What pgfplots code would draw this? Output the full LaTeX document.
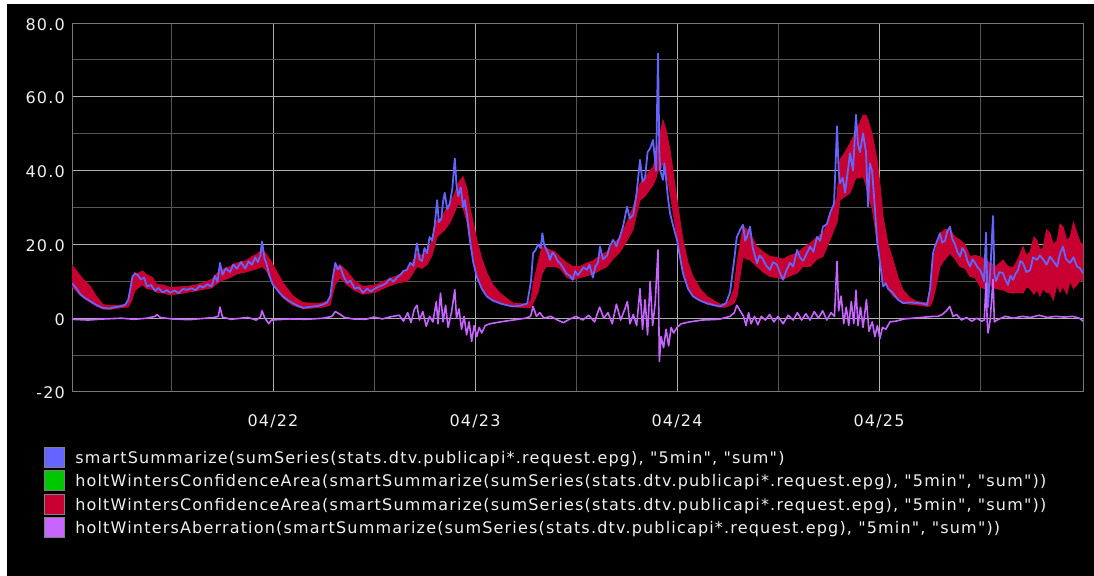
\documentclass[border=0pt]{standalone}
\usepackage{fontspec}
\setmainfont{DejaVu Sans}[LetterSpace=7.4, Ligatures=TeXOff]
\usepackage{xcolor}
\pagecolor{black}
\usepackage{pgfplots}
\usepackage{pgfplotstable}
\pgfplotsset{compat=1.18}
\usepgfplotslibrary{fillbetween}
\definecolor{hwblue}{RGB}{100,100,255}
\definecolor{hwgreen}{RGB}{0,200,0}
\definecolor{hwred}{RGB}{200,0,50}
\definecolor{hwpurple}{RGB}{200,100,255}
\definecolor{majgrid}{RGB}{175,175,175}
\definecolor{mingrid}{RGB}{85,85,85}
\definecolor{frame}{RGB}{120,120,120}
\definecolor{txt}{RGB}{240,240,240}

\pgfplotstableread{
h up low
-23.9 14.5 8.5
-23.4 13.0 7.5
-22.9 11.5 6.2
-22.3 10.0 5.2
-21.7 8.6 4.3
-21.0 6.0 3.3
-20.2 3.7 2.5
-19.4 3.4 2.4
-18.2 3.5 2.8
-17.6 3.8 3.0
-17.2 4.5 3.0
-16.75 11.0 5.0
-16.4 12.5 7.5
-16.16 12.0 8.0
-15.5 12.8 9.0
-15.0 11.8 8.0
-14.3 11.0 7.8
-13.8 9.1 7.0
-13.0 9.0 6.8
-12.24 8.3 6.3
-11.2 8.5 6.6
-10.2 8.6 7.0
-9.2 9.0 7.4
-8.3 9.6 7.8
-7.3 10.5 8.2
-6.3 13.0 10.0
-5.1 14.0 11.0
-4.3 15.0 12.0
-3.3 15.5 12.5
-2.5 16.7 13.0
-1.8 17.5 13.5
-1.31 18.6 14.0
-0.83 17.5 13.0
-0.36 15.9 11.0
0.36 13.0 8.0
1.19 9.6 5.5
2.38 6.0 3.5
3.56 4.2 2.6
5.0 4.0 2.8
5.94 4.2 3.0
6.77 5.0 3.5
7.37 13.7 9.0
7.96 14.5 11.0
8.79 12.7 9.0
9.74 10.0 7.5
10.69 8.6 6.5
12.12 9.0 7.0
13.54 10.4 8.5
14.73 11.5 9.5
15.92 13.0 10.0
16.28 14.0 11.0
17.11 17.6 14.0
17.7 17.0 13.5
18.3 18.0 14.5
18.89 21.0 17.0
19.48 26.6 22.0
19.96 27.0 23.0
20.43 29.0 24.0
21.03 31.0 26.0
21.62 34.0 29.0
21.98 36.5 31.0
22.57 38.4 30.0
23.05 35.0 26.0
23.4 30.0 21.0
24.24 21.0 12.0
24.83 16.0 8.0
25.42 12.2 6.0
26.14 9.0 4.8
26.97 6.8 4.0
28.51 4.1 3.1
30.18 3.8 2.8
30.65 5.0 3.0
30.89 9.0 4.0
31.48 15.0 7.0
31.96 19.4 12.0
32.43 19.0 14.0
32.91 18.5 14.0
33.5 18.0 14.0
34.1 16.6 13.5
34.93 15.0 11.0
35.64 14.0 10.4
36.47 14.0 11.0
37.31 15.0 11.5
38.02 15.5 12.0
38.85 17.0 13.0
39.68 18.0 14.0
40.39 20.0 16.0
41.23 22.0 18.0
42.06 26.0 21.0
42.77 30.0 24.0
43.6 36.5 32.0
44.19 38.0 33.0
44.79 40.0 35.0
45.15 41.0 36.0
45.5 44.0 38.0
45.74 47.0 40.0
45.98 50.0 40.0
46.33 53.7 42.0
46.69 51.0 40.0
47.17 45.6 34.0
48.0 32.0 22.0
48.71 21.2 13.0
49.31 15.0 8.0
49.9 11.3 6.0
50.73 8.0 4.8
51.56 5.9 3.8
53.11 3.8 3.0
53.82 4.0 3.0
54.3 5.0 3.5
54.77 8.0 4.0
55.13 15.0 6.0
55.84 24.8 16.7
56.31 24.0 16.0
56.67 23.0 15.8
57.5 19.4 14.0
58.22 18.0 12.5
59.05 16.7 11.3
59.88 16.5 11.0
60.59 16.0 10.5
61.42 17.0 11.5
62.26 17.6 12.2
62.97 19.0 14.0
63.8 20.3 14.0
64.63 22.0 16.0
65.34 23.0 16.7
66.18 27.6 21.2
66.65 30.0 24.0
67.01 33.0 26.0
67.36 43.0 32.0
67.96 45.0 33.0
68.55 47.4 33.9
68.91 49.0 36.0
69.26 51.0 38.0
69.74 53.0 38.0
70.1 55.0 38.4
70.45 55.0 36.0
70.69 53.7 33.0
71.17 50.0 30.0
71.76 43.0 21.0
72.12 36.0 15.0
72.47 27.6 10.0
73.07 20.0 8.0
73.66 15.8 6.0
74.26 11.0 5.0
74.85 7.7 4.0
75.68 5.5 3.8
76.51 4.5 3.6
77.7 4.2 3.2
78.06 6.0 3.3
78.41 15.8 5.0
78.89 20.0 10.0
79.24 23.0 14.0
79.84 24.0 16.0
80.43 24.0 17.6
81.03 22.0 16.0
81.62 21.2 14.0
82.21 20.0 13.5
82.81 16.7 11.3
83.4 17.0 11.0
84.0 16.7 8.6
84.47 16.0 8.0
85.18 15.0 9.0
85.9 14.0 8.0
86.73 15.8 7.7
87.32 14.0 7.0
87.92 13.7 6.8
88.51 16.0 7.0
89.11 19.4 6.8
89.5 17.0 8.5
89.94 18.0 8.0
90.4 22.0 6.5
90.77 21.0 7.7
91.1 18.5 6.0
91.48 19.0 8.0
91.9 24.0 7.0
92.31 23.0 6.8
92.7 20.0 5.0
93.15 21.0 9.0
93.5 25.5 7.0
93.86 24.8 8.6
94.3 21.0 6.5
94.69 22.0 10.0
95.1 26.0 8.0
95.52 23.0 9.0
95.9 20.5 10.5
96.23 20.0 10.0
}\bandtable

\pgfplotstableread{
h v
-23.9 9.5
-23.4 8.2
-22.9 6.5
-22.3 5.4
-21.7 4.6
-21.0 3.6
-20.2 2.8
-19.4 2.6
-18.8 3.0
-18.2 3.2
-17.6 3.5
-17.2 5.0
-16.9 8.5
-16.7 11.3
-16.4 12.0
-16.1 11.8
-15.7 10.5
-15.3 11.0
-15.0 8.6
-14.5 9.0
-14.0 7.4
-13.6 8.2
-13.1 7.0
-12.6 7.6
-12.2 6.9
-11.7 7.5
-11.2 6.8
-10.7 7.9
-10.2 7.7
-9.7 8.1
-9.2 7.6
-8.7 8.8
-8.3 8.3
-7.8 9.2
-7.3 8.6
-6.9 11.5
-6.6 9.8
-6.3 15.0
-6.0 11.8
-5.6 13.5
-5.1 12.5
-4.7 14.6
-4.3 13.4
-3.8 15.2
-3.3 13.5
-2.9 15.4
-2.5 14.5
-2.1 16.5
-1.8 15.2
-1.5 17.0
-1.3 20.8
-1.0 16.0
-0.8 15.0
-0.4 11.3
0.0 9.0
0.4 8.0
0.8 6.8
1.2 5.9
1.8 4.8
2.4 4.0
3.0 3.3
3.6 2.8
4.5 3.1
5.3 3.3
5.9 3.7
6.4 4.2
6.8 6.0
7.1 11.0
7.4 15.0
7.7 13.2
8.0 14.0
8.4 11.2
8.8 9.6
9.2 10.2
9.7 8.0
10.2 8.4
10.7 6.9
11.2 8.0
11.6 7.2
12.1 8.0
12.6 8.6
13.1 9.0
13.5 9.6
13.9 10.8
14.3 9.9
14.7 11.0
15.1 11.7
15.5 12.8
15.9 13.1
16.3 15.0
16.7 14.2
17.1 20.3
17.4 16.0
17.7 15.5
18.0 19.0
18.3 17.6
18.6 22.0
18.9 21.0
19.2 25.0
19.5 32.0
19.7 26.0
20.0 27.0
20.2 31.5
20.4 34.0
20.7 29.5
21.0 31.0
21.3 35.0
21.6 43.3
21.8 36.0
22.0 33.0
22.3 35.5
22.6 30.0
22.8 32.0
23.1 27.0
23.4 21.0
23.8 15.0
24.2 11.3
24.8 8.0
25.4 5.9
26.1 4.8
27.0 4.0
27.8 3.5
28.5 3.2
29.4 3.4
30.2 4.0
30.65 10.0
30.9 17.6
31.2 18.5
31.5 20.0
31.8 19.0
32.0 23.0
32.2 20.0
32.4 19.0
32.7 17.5
32.9 15.8
33.2 17.8
33.5 17.0
33.8 15.5
34.1 14.9
34.5 13.5
34.9 12.0
35.3 11.5
35.6 10.4
35.9 12.8
36.2 11.6
36.5 12.5
36.9 13.8
37.3 13.1
37.6 14.5
38.0 11.0
38.3 14.0
38.6 15.0
38.85 19.4
39.2 16.0
39.7 17.0
40.0 19.5
40.4 21.2
40.8 19.5
41.2 22.0
41.6 25.0
42.06 30.2
42.4 27.0
42.8 28.0
43.2 34.0
43.6 42.9
43.9 37.0
44.2 38.0
44.5 45.0
44.8 46.0
45.15 48.3
45.5 40.0
45.74 71.7
45.9 45.0
46.0 40.0
46.33 37.5
46.5 42.0
46.69 38.0
46.9 33.0
47.17 28.4
47.6 24.5
48.0 21.2
48.4 16.0
48.7 12.2
49.3 8.0
49.9 5.9
50.7 4.8
51.6 4.0
52.3 3.6
53.1 3.2
53.8 4.0
54.3 7.0
54.8 16.0
55.1 22.0
55.5 24.0
55.84 25.3
56.1 21.0
56.3 22.0
56.67 24.8
57.0 19.0
57.5 14.9
57.8 17.0
58.2 16.0
58.6 14.2
59.05 13.1
59.4 15.2
59.88 14.5
60.2 12.5
60.59 10.4
61.0 13.0
61.42 15.0
61.8 14.0
62.26 18.5
62.6 16.5
62.97 15.5
63.4 17.5
63.8 19.4
64.2 18.0
64.63 22.0
65.0 21.0
65.34 24.8
65.8 25.5
66.18 28.5
66.65 31.0
67.01 52.0
67.2 40.0
67.36 36.6
67.7 38.0
67.96 34.0
68.3 40.0
68.55 44.7
68.91 40.0
69.26 55.1
69.5 47.0
69.74 45.0
70.1 50.1
70.45 45.0
70.69 30.3
70.9 42.0
71.17 40.0
71.5 30.0
71.76 21.2
72.12 15.0
72.47 8.6
72.8 9.5
73.07 8.0
73.66 6.8
74.26 5.0
74.85 4.1
75.68 4.3
76.51 4.1
77.1 4.0
77.7 3.6
78.06 8.0
78.41 17.6
78.65 19.5
78.89 21.0
79.24 23.0
79.5 20.5
79.84 21.0
80.1 23.5
80.43 24.8
80.7 21.5
81.03 20.0
81.3 18.0
81.62 16.7
81.9 19.0
82.21 18.0
82.5 15.5
82.81 14.0
83.1 16.0
83.4 15.0
83.7 13.8
84.0 13.1
84.3 11.5
84.47 10.0
84.71 23.2
84.85 8.0
84.95 3.0
85.1 9.0
85.2 12.0
85.54 27.7
85.7 12.0
85.9 10.0
86.3 12.5
86.73 12.2
87.0 10.5
87.32 9.0
87.6 11.5
87.92 10.4
88.2 12.0
88.51 13.0
88.8 15.5
89.11 14.9
89.5 12.5
89.94 13.0
90.3 16.5
90.77 15.8
91.1 17.0
91.48 16.0
91.9 14.5
92.31 16.7
92.7 15.5
93.15 14.0
93.5 17.5
93.86 19.4
94.2 16.0
94.69 15.0
95.1 16.5
95.52 14.0
95.9 13.5
96.23 12.2
}\bluetable

\pgfplotstableread{
h v
-23.9 -0.3
-22 -0.5
-20 -0.2
-18 0.0
-16.5 -0.3
-15 0.0
-14 0.5
-13.8 1.0
-13.4 0.2
-12 -0.2
-10 -0.4
-8 0.0
-7 0.2
-6.5 0.5
-6.3 3.0
-6.0 0.3
-5 -0.3
-3 0.2
-2 -0.5
-1.5 0.3
-1.3 2.0
-1.0 0.2
-0.5 -1.5
-0.2 -0.5
0.5 -0.4
2 -0.2
4 -0.3
6 0.0
7 0.5
7.4 1.8
8.0 1.0
8.5 0.2
9.5 -0.2
11 -0.3
12 0.3
13 -0.2
14 0.4
15.0 0.8
15.5 -0.8
16.0 1.5
16.4 -1.2
16.8 2.5
17.1 3.5
17.4 -0.5
17.8 1.8
18.2 -2.2
18.6 0.5
19.0 -1.0
19.4 4.5
19.6 -1.5
19.9 6.8
20.2 -1.0
20.5 3.5
20.8 -2.5
21.2 1.5
21.6 7.7
21.8 0.0
22.1 2.5
22.4 -3.0
22.7 0.5
23.0 -4.5
23.3 -1.0
23.6 -6.3
23.9 -2.0
24.2 -5.0
24.5 -2.5
24.8 -4.0
25.2 -2.0
25.8 -1.5
27 -1.0
28.5 -0.5
30 0.0
30.6 0.5
30.9 3.2
31.3 0.5
31.7 1.5
32.2 0.0
33 0.5
33.8 -0.5
34.5 -1.2
35.2 -0.3
36 0.5
36.8 -0.5
37.5 0.8
38.2 -1.0
38.8 3.0
39.3 0.0
39.8 1.5
40.3 -1.5
40.8 3.8
41.3 -0.5
41.8 2.5
42.1 4.5
42.4 -1.5
42.8 1.0
43.2 -2.0
43.6 8.0
43.9 -3.0
44.2 5.0
44.5 -4.5
44.8 10.0
45.1 -2.0
45.4 4.0
45.74 18.5
45.9 -11.7
46.1 -5.0
46.4 -8.0
46.7 -3.0
47.0 -7.5
47.3 -2.5
47.6 -4.0
48.0 -2.5
48.5 -1.5
49.5 -1.0
51 -0.5
53 -0.3
54.3 0.5
54.8 1.5
55.1 3.5
55.5 2.0
55.9 0.5
56.2 -2.0
56.5 1.5
56.8 -1.5
57.2 0.5
57.6 -1.8
58.0 0.5
58.5 -0.5
59.0 1.0
59.5 -1.0
60.0 0.5
60.6 -1.5
61.2 0.8
61.8 -0.5
62.3 1.5
62.8 -0.5
63.3 1.2
63.8 -0.5
64.3 1.8
64.8 0.0
65.3 2.0
65.8 -0.5
66.3 1.5
66.7 0.5
67.01 15.4
67.2 2.0
67.5 6.0
67.8 -1.5
68.1 3.0
68.4 -2.0
68.7 4.5
69.0 -1.5
69.26 7.5
69.5 -2.0
69.8 3.0
70.1 -2.5
70.5 5.0
70.8 -3.5
71.2 -1.0
71.5 -5.0
71.8 -2.0
72.1 -5.5
72.4 -2.5
72.8 -3.0
73.3 -1.0
74 -0.8
75 -0.2
76 0.0
77 0.2
78 0.4
78.5 0.5
79.0 0.5
79.5 1.0
80.0 2.0
80.4 3.2
80.8 0.5
81.2 1.0
81.8 -0.5
82.4 0.2
83.0 -0.8
83.6 0.0
84.2 -0.8
84.5 -0.5
84.71 9.5
84.85 -1.0
84.95 -4.0
85.2 -0.5
85.54 10.5
85.7 -1.0
86.0 -0.5
87 0.5
88 0.0
89 0.5
90 0.2
91 0.8
92 0.2
93 0.5
94 0.3
95 0.5
95.8 0.0
96.23 -0.8
}\purpletable

\begin{document}
\begin{tikzpicture}
\fill[white] (0,0) rectangle (7bp,576bp);
\fill[white] (0,572bp) rectangle (1094bp,576bp);
\begin{axis}[
  at={(72bp,184bp)}, anchor=south west,
  scale only axis, width=1011bp, height=369bp,
  xmin=-23.88, xmax=96.23, ymin=-20, ymax=80,
  axis line style={frame, line width=1bp},
  xtick={0,24,48,72}, xticklabels={04/22,04/23,04/24,04/25},
  minor xtick={-12,12,36,60,84},
  ytick={-20,0,20,40,60,80}, yticklabels={-20,0,20.0,40.0,60.0,80.0},
  minor ytick={-10,10,30,50,70},
  grid=both,
  major grid style={majgrid, line width=1bp},
  minor grid style={mingrid, line width=1bp},
  tick style={draw=none},
  major tick length=0pt, minor tick length=0pt,
  tick label style={font=\fontsize{16bp}{19bp}\selectfont, text=txt, inner sep=0pt},
  xticklabel style={anchor=base, yshift=-35bp},
  yticklabel style={anchor=base east, xshift=-7bp, yshift=-7bp},
  legend style={at={(-0.0272,-0.1477)}, anchor=north west, draw=none, fill=none,
    inner sep=0pt, outer sep=0pt, row sep=2.7bp, column sep=10bp,
    font=\fontsize{16bp}{19bp}\selectfont, text=txt,
    nodes={inner sep=0pt, text height=14bp, text depth=1bp}},
  legend cell align=left,
]
\addlegendimage{legend image code/.code={\filldraw[draw=gray, fill=hwblue, line width=0.8bp] (0bp,-10bp) rectangle (20bp,10bp);}}
\addlegendentry{smartSummarize(sumSeries(stats.dtv.publicapi*.request.epg), "5min", "sum")}
\addlegendimage{legend image code/.code={\filldraw[draw=gray, fill=hwgreen, line width=0.8bp] (0bp,-10bp) rectangle (20bp,10bp);}}
\addlegendentry{holtWintersConfidenceArea(smartSummarize(sumSeries(stats.dtv.publicapi*.request.epg), "5min", "sum"))}
\addlegendimage{legend image code/.code={\filldraw[draw=gray, fill=hwred, line width=0.8bp] (0bp,-10bp) rectangle (20bp,10bp);}}
\addlegendentry{holtWintersConfidenceArea(smartSummarize(sumSeries(stats.dtv.publicapi*.request.epg), "5min", "sum"))}
\addlegendimage{legend image code/.code={\filldraw[draw=gray, fill=hwpurple, line width=0.8bp] (0bp,-10bp) rectangle (20bp,10bp);}}
\addlegendentry{holtWintersAberration(smartSummarize(sumSeries(stats.dtv.publicapi*.request.epg), "5min", "sum"))}

\addplot[name path=U, draw=none, forget plot] table[x=h, y=up] {\bandtable};
\addplot[name path=L, draw=none, forget plot] table[x=h, y=low] {\bandtable};
\addplot[fill=hwgreen, draw=none, forget plot] fill between[of=U and L];
\addplot[fill=hwred, draw=hwred, line width=0.8bp, forget plot] fill between[of=U and L];
\addplot[hwblue, line width=1.8bp, line join=round, forget plot] table[x=h, y=v] {\bluetable};
\addplot[hwpurple, line width=1.6bp, line join=round, forget plot] table[x=h, y=v] {\purpletable};
\end{axis}
\end{tikzpicture}
\end{document}
